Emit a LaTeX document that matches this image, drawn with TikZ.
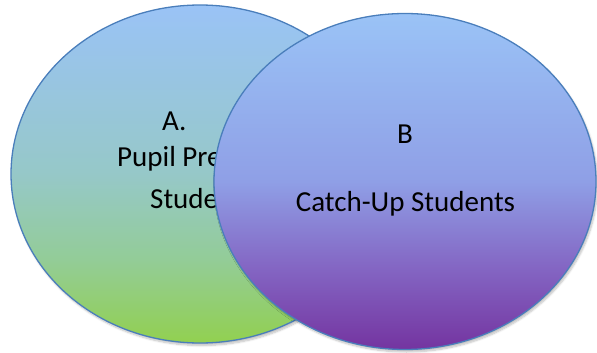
\documentclass[tikz,border=0pt]{standalone}
\usepackage{fontspec}
\setmainfont{Carlito}
\usetikzlibrary{shapes.geometric,shadows.blur}
\definecolor{rimblue}{HTML}{4A7EBB}
\definecolor{leafgreen}{HTML}{92D050}
\definecolor{seagreen}{HTML}{93CC98}
\definecolor{paleteal}{HTML}{96C8C8}
\definecolor{skyblue}{HTML}{9AC3F6}
\definecolor{deeppurple}{HTML}{7434A0}
\definecolor{midpurple}{HTML}{8467C4}
\definecolor{lavender}{HTML}{8F9FE6}
\pgfdeclareverticalshading{pupilfill}{100bp}{color(0bp)=(leafgreen); color(25bp)=(leafgreen);
  color(37.5bp)=(seagreen); color(50bp)=(paleteal); color(75bp)=(skyblue); color(100bp)=(skyblue)}
\pgfdeclareverticalshading{catchfill}{100bp}{color(0bp)=(deeppurple); color(25bp)=(deeppurple);
  color(37.5bp)=(midpurple); color(50bp)=(lavender); color(75bp)=(skyblue); color(100bp)=(skyblue)}
\tikzset{
  setring/.style={ellipse, draw=rimblue, line width=1.3pt, inner sep=0pt, outer sep=0pt,
    blur shadow={shadow xshift=1.5pt, shadow yshift=-2.5pt, shadow blur steps=6, shadow opacity=25}},
  settext/.style={inner sep=0pt, font=\fontsize{29}{35}\selectfont}
}
\begin{document}
\begin{tikzpicture}[x=1pt,y=-1pt]
                \useasboundingbox (0,0) rectangle (597,353);
                \node[setring, shading=pupilfill, minimum width=378pt, minimum height=338pt] (A) at (200,174) {};
                \node[settext, anchor=base west] (Atag) at (162,130) {A.};
                \node[settext, anchor=base west] (Aname) at (117,166) {Pupil Premium};
                \node[settext, anchor=base west] (Astud) at (150,208) {Students};
                \node[setring, shading=catchfill, minimum width=382pt, minimum height=336pt] (B) at (405,181.5) {};
                \node[settext, anchor=base] (Btag) at (405,143) {B};
                \node[settext, anchor=base] (Bname) at (405.5,211) {Catch-Up Students};
\end{tikzpicture}
\end{document}
